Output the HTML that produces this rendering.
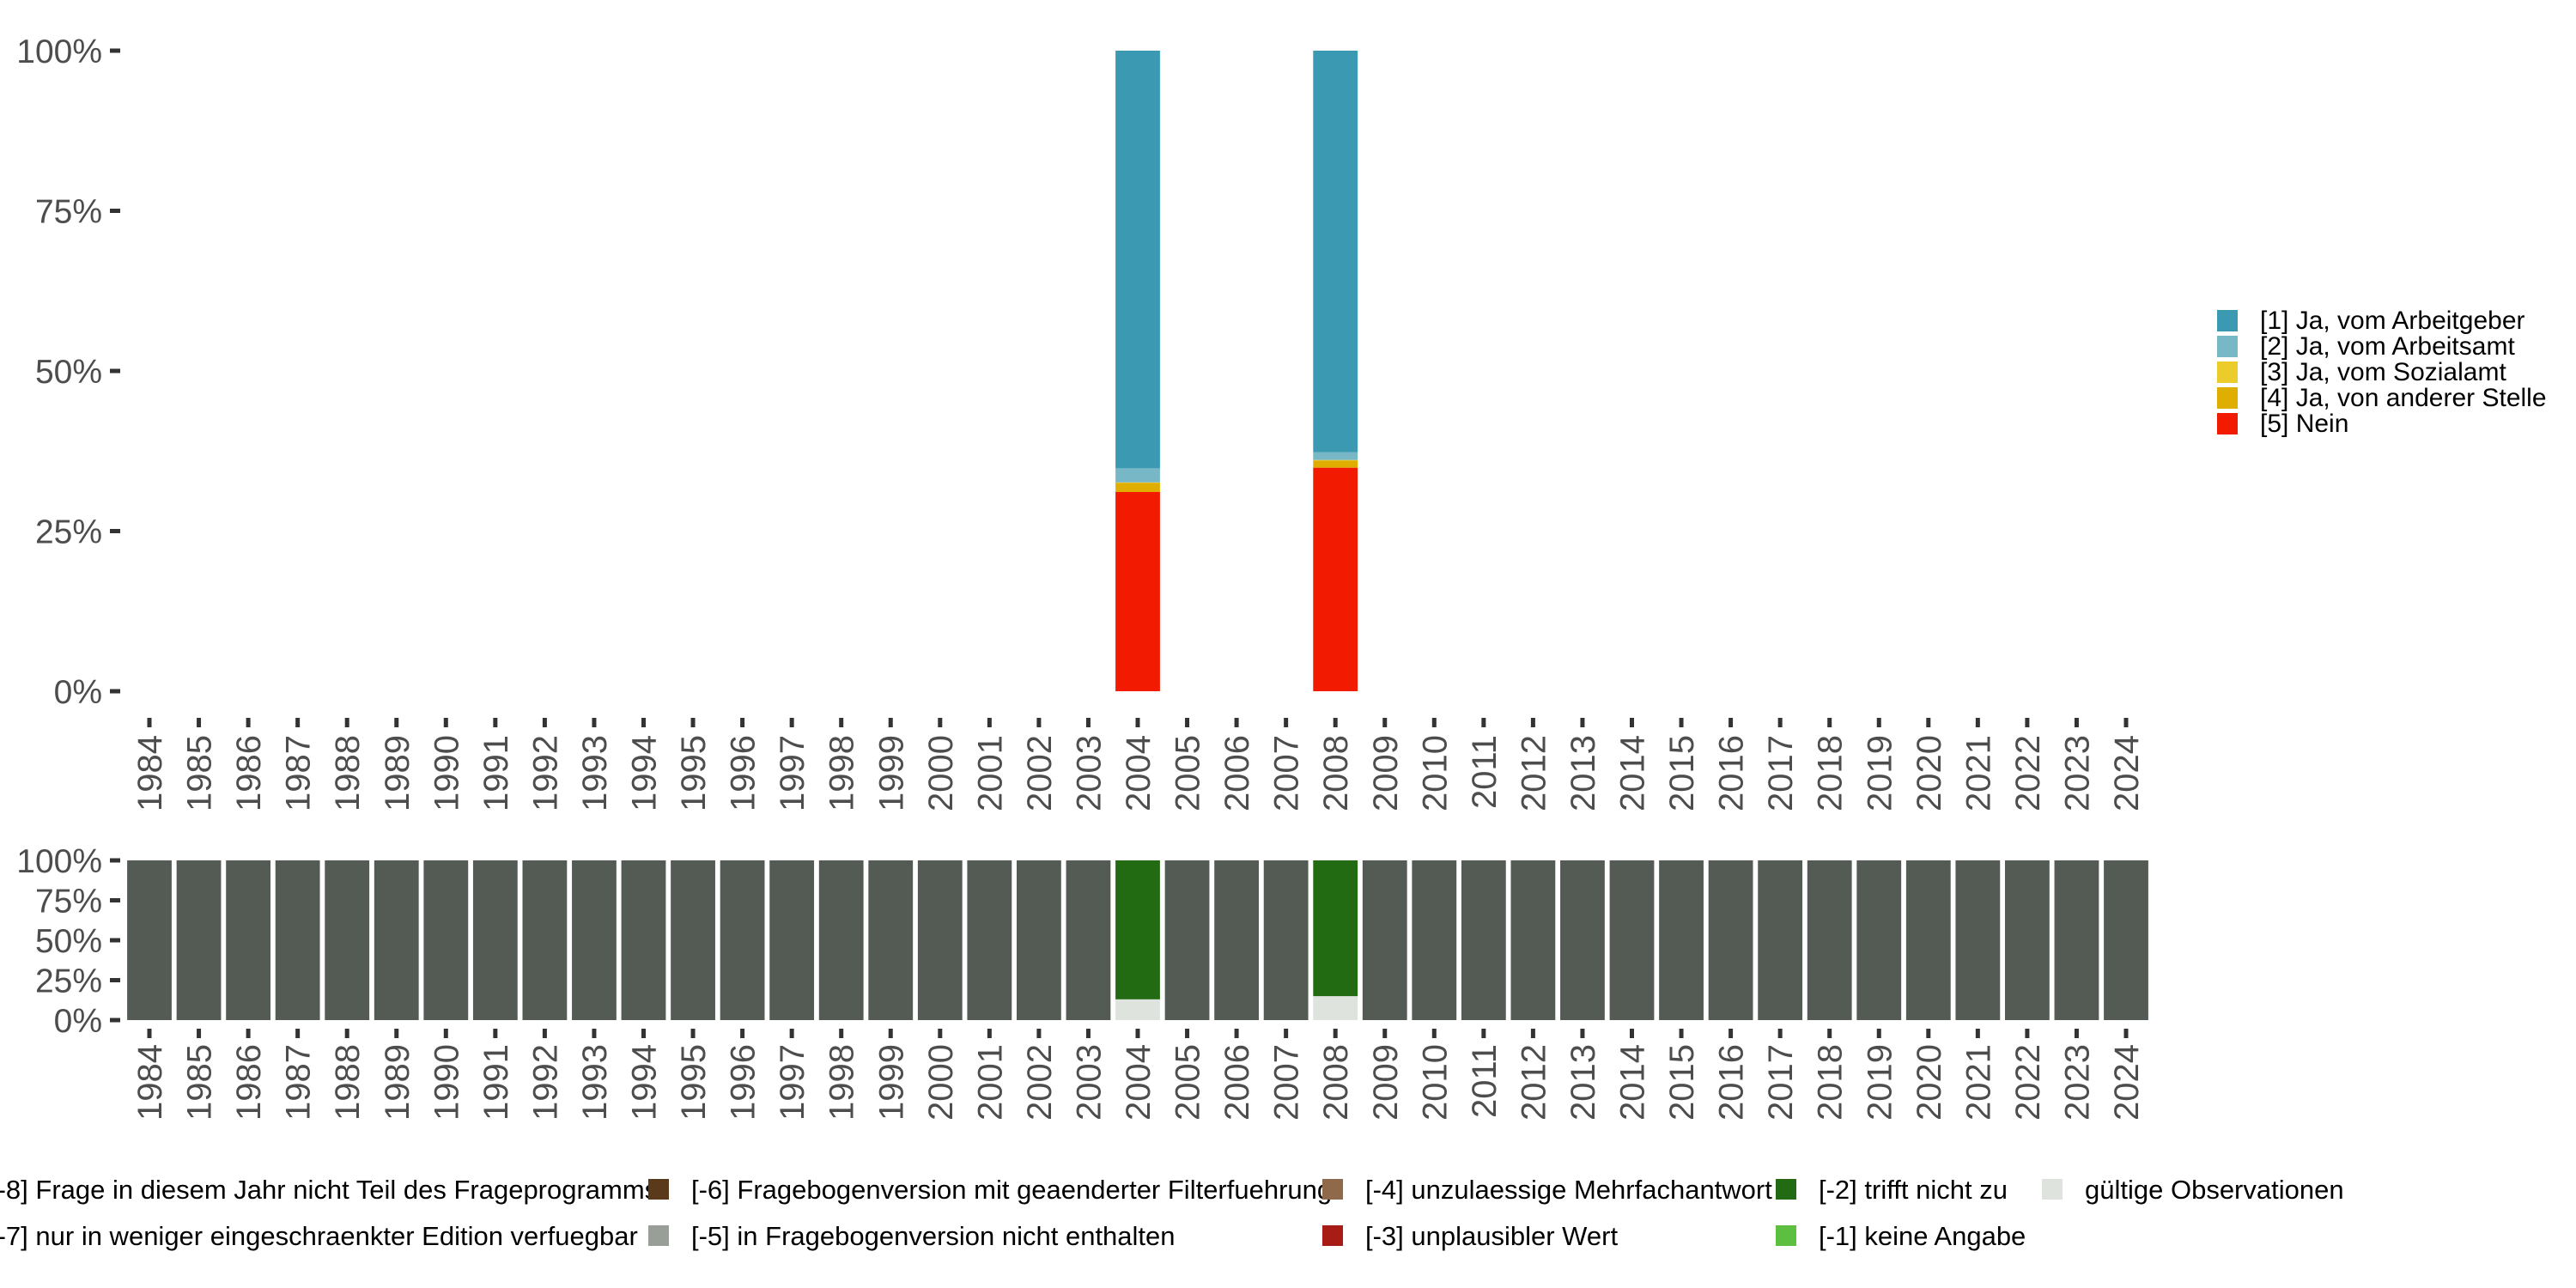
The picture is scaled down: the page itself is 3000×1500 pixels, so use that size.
<!DOCTYPE html>
<html><head><meta charset="utf-8"><style>
html,body{margin:0;padding:0;background:#fff;}
svg{display:block;font-family:"Liberation Sans","DejaVu Sans",sans-serif;}
</style></head><body>
<svg id="chart" width="3000" height="1500" viewBox="0 0 3000 1500" xmlns="http://www.w3.org/2000/svg">
<g id="topPanel"></g>
<g id="bottomPanel"></g>
<g id="legR"></g>
<g id="legB"></g>
</svg>
<script>
const years = [];
for (let y = 1984; y <= 2024; y++) years.push(y);
const topYears = [2004, 2008];
const nein = [31.1, 34.9];
const andere = [1.4, 1.1];
const sozial = [0.1, 0.1];
const arbeitsamt = [2.2, 1.2];
const arbeitgeber = [65.2, 62.7];
const validYears = [2004, 2008];
const validShare = [13, 15];
const filterShare = [87, 85];
const yTicks = [0, 25, 50, 75, 100];
const yTickLabels = ["0%", "25%", "50%", "75%", "100%"];

const NS = "http://www.w3.org/2000/svg";
function mk(tag, attrs, parent){const e=document.createElementNS(NS,tag);for(const k in attrs)e.setAttribute(k,attrs[k]);parent.appendChild(e);return e;}
const x0 = 174, step = 57.55, bw = 51.8;
function xC(yr){return x0 + (yr-1984)*step;}
function yTop(v){return 805 - v/100*746;}
function yBot(v){return 1188 - v/100*186;}

const topG = document.getElementById('topPanel');
const botG = document.getElementById('bottomPanel');

function axes(g, yf, tickY0, labY){
  yTicks.forEach((t,i)=>{
    const l = mk('line',{x1:128,x2:140,y1:yf(t),y2:yf(t),stroke:'#333','stroke-width':5},g);
    
    
    const tx = mk('text',{x:119,y:yf(t)+14,'text-anchor':'end','font-size':39,fill:'#4d4d4d'},g);
    tx.textContent = yTickLabels[i];
    
    
  });
  years.forEach(yr=>{
    const l = mk('line',{x1:xC(yr),x2:xC(yr),y1:tickY0,y2:tickY0+11,stroke:'#333','stroke-width':5},g);
    
    
    const tx = mk('text',{x:0,y:0,'text-anchor':'end','font-size':40,fill:'#4d4d4d',transform:`translate(${xC(yr)+14},${labY}) rotate(-90)`},g);
    tx.textContent = yr;
    
    
  });
}
axes(topG, yTop, 836, 856);
axes(botG, yBot, 1198, 1216);

const topSeries = [
  {vals:nein,c:'#f21a00',n:'bar-nein'},
  {vals:andere,c:'#e0ae00',n:'bar-andere-stelle'},
  {vals:sozial,c:'#ebcc2a',n:'bar-sozialamt'},
  {vals:arbeitsamt,c:'#78b7c5',n:'bar-arbeitsamt'},
  {vals:arbeitgeber,c:'#3b9ab2',n:'bar-arbeitgeber'}
];
topYears.forEach((yr,i)=>{
  let cum=0;
  topSeries.forEach(s=>{
    const v=s.vals[i];
    const r=mk('rect',{x:xC(yr)-bw/2,y:yTop(cum+v),width:bw,height:yTop(cum)-yTop(cum+v),fill:s.c},topG);
    
    
    cum+=v;
  });
});

years.forEach(yr=>{
  const idx = validYears.indexOf(yr);
  if(idx<0){
    const r=mk('rect',{x:xC(yr)-bw/2,y:yBot(100),width:bw,height:yBot(0)-yBot(100),fill:'#545b55'},botG);
    
    
  } else {
    const v=validShare[idx], f=filterShare[idx];
    const r1=mk('rect',{x:xC(yr)-bw/2,y:yBot(v),width:bw,height:yBot(0)-yBot(v),fill:'#dfe3dd'},botG);
    
    
    const r2=mk('rect',{x:xC(yr)-bw/2,y:yBot(v+f),width:bw,height:yBot(v)-yBot(v+f),fill:'#236b12'},botG);
    
    
  }
});

const legR = document.getElementById('legR');
const rItems=[['[1] Ja, vom Arbeitgeber','#3b9ab2'],['[2] Ja, vom Arbeitsamt','#78b7c5'],['[3] Ja, vom Sozialamt','#ebcc2a'],['[4] Ja, von anderer Stelle','#e0ae00'],['[5] Nein','#f21a00']];
rItems.forEach((it,i)=>{
  const y=361+i*30;
  const r=mk('rect',{x:2582,y:y,width:24,height:25,fill:it[1]},legR);
  
  
  const t=mk('text',{x:2632,y:y+22,'font-size':30,fill:'#000'},legR);
  t.textContent=it[0];
  
  
});

const legB = document.getElementById('legB');
const bItems=[
  [-50,-12,1385,'[-8] Frage in diesem Jahr nicht Teil des Frageprogramms','#545b55'],
  [-50,-12,1439,'[-7] nur in weniger eingeschraenkter Edition verfuegbar','#ffffff'],
  [755,805,1385,'[-6] Fragebogenversion mit geaenderter Filterfuehrung','#5b3a1b'],
  [755,805,1439,'[-5] in Fragebogenversion nicht enthalten','#9a9e98'],
  [1540,1590,1385,'[-4] unzulaessige Mehrfachantwort','#8e6a4a'],
  [1540,1590,1439,'[-3] unplausibler Wert','#a81c16'],
  [2068,2118,1385,'[-2] trifft nicht zu','#236b12'],
  [2068,2118,1439,'[-1] keine Angabe','#5cbf40'],
  [2378,2428,1385,'gültige Observationen','#dfe3dd']
];
bItems.forEach(it=>{
  const r=mk('rect',{x:it[0],y:it[2]-12,width:24,height:24,fill:it[4]},legB);
  
  
  const t=mk('text',{x:it[1],y:it[2]+11,'font-size':31,fill:'#000'},legB);
  t.textContent=it[3];
  
  
});
</script>
</body></html>
